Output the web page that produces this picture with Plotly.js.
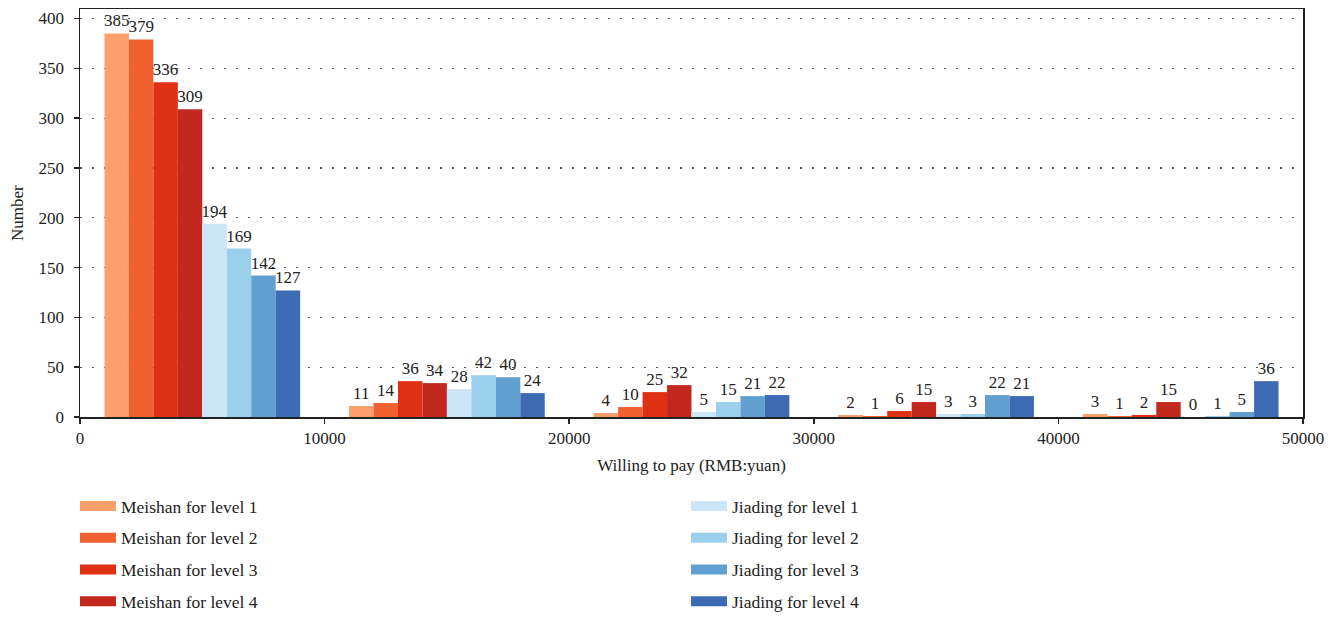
<!DOCTYPE html>
<html>
<head>
<meta charset="utf-8">
<script src="https://cdn.plot.ly/plotly-3.0.1.min.js"></script>
<style>html,body{margin:0;padding:0;background:#fff;}#chart{width:1337px;height:618px;}</style>
</head>
<body>
<div id="chart"></div>
<script>
// Price-range group centres (RMB:yuan)
const groupCenters = [5000, 15000, 25000, 35000, 45000];

const seriesNames = [
  "Meishan for level 1", "Meishan for level 2", "Meishan for level 3", "Meishan for level 4",
  "Jiading for level 1", "Jiading for level 2", "Jiading for level 3", "Jiading for level 4"
];

const meishanL1 = [385, 11, 4, 2, 3];
const meishanL2 = [379, 14, 10, 1, 1];
const meishanL3 = [336, 36, 25, 6, 2];
const meishanL4 = [309, 34, 32, 15, 15];
const jiadingL1 = [194, 28, 5, 3, 0];
const jiadingL2 = [169, 42, 15, 3, 1];
const jiadingL3 = [142, 40, 21, 22, 5];
const jiadingL4 = [127, 24, 22, 21, 36];

const xTickLabels = ["0", "10000", "20000", "30000", "40000", "50000"];
const xTickVals = [0, 10000, 20000, 30000, 40000, 50000];
const xTitle = "Willing to pay (RMB:yuan)";
const yTitle = "Number";

const seriesValues = [meishanL1, meishanL2, meishanL3, meishanL4, jiadingL1, jiadingL2, jiadingL3, jiadingL4];
const seriesColors = ["#FCA06B", "#F16130", "#E03013", "#C3281F", "#CCE6F8", "#9AD0EC", "#629FD1", "#3C6BB4"];

const FONT = "'Liberation Serif', 'DejaVu Serif', serif";
const TXT = "#222";

const traces = [];
seriesValues.forEach((vals, i) => {
  traces.push({
    type: "bar",
    x: groupCenters,
    y: vals,
    name: seriesNames[i],
    marker: {color: seriesColors[i], line: {width: 0}},
    text: vals.map(String),
    textposition: "outside",
    constraintext: "none",
    cliponaxis: false,
    textfont: {family: FONT, size: 17, color: TXT},
    showlegend: false,
    hoverinfo: "x+y+name"
  });
});
// legend swatches
seriesNames.forEach((n, i) => {
  traces.push({
    type: "scatter",
    mode: "lines",
    x: [null], y: [null],
    name: n,
    line: {color: seriesColors[i], width: 11},
    legend: i < 4 ? "legend" : "legend2",
    legendgroup: "g" + i,
    showlegend: true,
    hoverinfo: "skip"
  });
});

const legendCommon = {
  orientation: "v",
  font: {family: FONT, size: 17.5, color: TXT},
  bgcolor: "rgba(0,0,0,0)",
  tracegroupgap: 6,
  itemwidth: 36,
  xanchor: "left",
  yanchor: "top",
  yref: "container",
  xref: "container"
};

const layout = {
  width: 1337,
  height: 618,
  margin: {l: 80, r: 34, t: 9, b: 201, autoexpand: false},
  paper_bgcolor: "#fff",
  plot_bgcolor: "#fff",
  font: {family: FONT, size: 16, color: TXT},
  barmode: "group",
  bargap: 0.2,
  bargroupgap: 0,
  showlegend: true,
  xaxis: {
    range: [0, 50000],
    tickvals: xTickVals,
    ticktext: xTickLabels,
    ticks: "outside", ticklen: 5, tickcolor: TXT, tickwidth: 1.5,
    showline: true, linecolor: TXT, linewidth: 1.5, mirror: true,
    showgrid: false, zeroline: false,
    tickfont: {family: FONT, size: 17, color: TXT},
    title: {text: xTitle, font: {family: FONT, size: 17, color: TXT}, standoff: 12}
  },
  yaxis: {
    range: [0, 409.5],
    dtick: 50, tick0: 0,
    ticks: "outside", ticklen: 5, tickcolor: TXT, tickwidth: 1.5,
    ticklabelstandoff: 6,
    showline: true, linecolor: TXT, linewidth: 1.5, mirror: true,
    showgrid: true, gridcolor: "#555", gridwidth: 1.2, griddash: "1.5px,10.5px",
    zeroline: false,
    tickfont: {family: FONT, size: 17, color: TXT}
  },
  annotations: [{
    text: yTitle,
    xref: "paper", yref: "paper",
    x: 0, y: 0.5,
    xanchor: "center", yanchor: "middle",
    xshift: -63,
    textangle: -90,
    showarrow: false,
    font: {family: FONT, size: 17, color: TXT}
  }],
  legend: Object.assign({}, legendCommon, {x: 75 / 1337, y: 1 - 488 / 618}),
  legend2: Object.assign({}, legendCommon, {x: 686 / 1337, y: 1 - 488 / 618})
};

Plotly.newPlot("chart", traces, layout, {displayModeBar: false, staticPlot: true});
</script>
</body>
</html>
